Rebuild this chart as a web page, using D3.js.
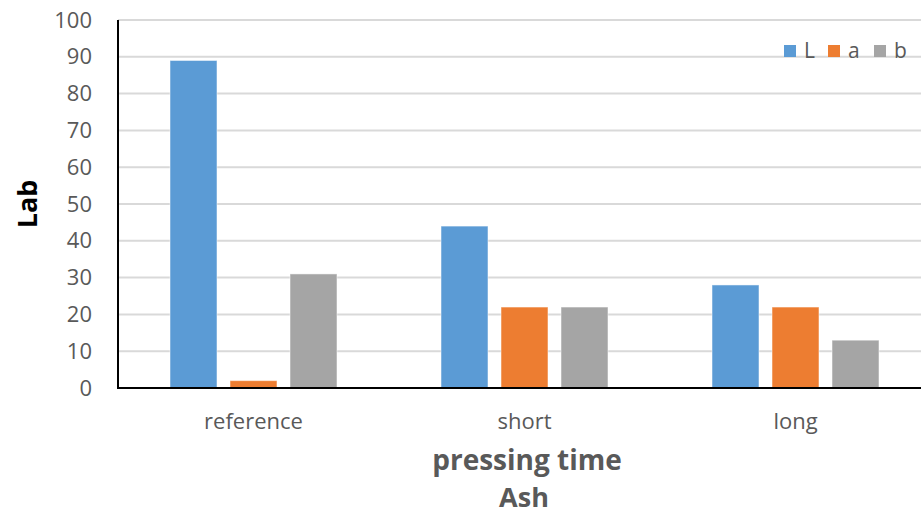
<!DOCTYPE html>
<html>
<head>
<meta charset="utf-8">
<script src="https://cdn.jsdelivr.net/npm/d3@7"></script>
<style>
  html, body { margin: 0; padding: 0; background: #fff; }
  svg { display: block; font-family: "Open Sans", "Liberation Sans", sans-serif; }
</style>
</head>
<body>
<svg id="chart" width="921" height="515"></svg>
<script>
// Lab colour values by pressing time
const categories = ["reference", "short", "long"];
const seriesNames = ["L", "a", "b"];
const valuesL = [89, 44, 28];
const valuesA = [2, 22, 22];
const valuesB = [31, 22, 13];
const yTicks = [0, 10, 20, 30, 40, 50, 60, 70, 80, 90, 100];
const colors = ["#5B9BD5", "#ED7D31", "#A5A5A5"];

const seriesValues = [valuesL, valuesA, valuesB];
const rows = categories.map((c, i) => ({
  category: c,
  values: seriesNames.map((s, j) => ({ key: s, value: seriesValues[j][i] }))
}));

const svg = d3.select("#chart");
const plotLeft = 118, plotTop = 20, plotBottom = 388, plotRight = 931;

const x0 = d3.scaleBand().domain(categories).range([plotLeft, plotRight]).padding(0);
const x1 = d3.scaleBand().domain(seriesNames)
  .range([45.5, 225.5]).paddingInner(0.217).paddingOuter(0.1085);
const y = d3.scaleLinear().domain([0, 100]).range([plotBottom, plotTop]);
const color = d3.scaleOrdinal().domain(seriesNames).range(colors);

// gridlines
svg.append("g")
  .selectAll("line")
  .data(yTicks.filter(t => t > 0))
  .join("line")
  .attr("x1", plotLeft).attr("x2", 921)
  .attr("y1", d => y(d)).attr("y2", d => y(d))
  .attr("stroke", "#d9d9d9").attr("stroke-width", 2);

// y axis labels
const yAxis = d3.axisLeft(y).tickValues(yTicks).tickSize(0).tickPadding(26);
const gy = svg.append("g").attr("transform", `translate(${plotLeft},0)`).call(yAxis);
gy.select(".domain").remove();
gy.selectAll("text").attr("fill", "#595959").style("font-size", "22px")
  .style("font-family", "'Open Sans', 'Liberation Sans', sans-serif");

// bars
const groups = svg.append("g").selectAll("g")
  .data(rows).join("g")
  .attr("transform", d => `translate(${x0(d.category)},0)`);
groups.selectAll("rect")
  .data(d => d.values).join("rect")
  .attr("x", d => x1(d.key))
  .attr("width", x1.bandwidth())
  .attr("y", d => y(d.value))
  .attr("height", d => y(0) - y(d.value))
  .attr("fill", d => color(d.key))
  .attr("stroke", "#ffffff").attr("stroke-opacity", 0.5).attr("stroke-width", 1);

// axis lines
svg.append("line").attr("x1", plotLeft).attr("x2", plotLeft)
  .attr("y1", plotTop).attr("y2", plotBottom + 1)
  .attr("stroke", "#000").attr("stroke-width", 2);
svg.append("line").attr("x1", plotLeft - 1).attr("x2", 921)
  .attr("y1", plotBottom).attr("y2", plotBottom)
  .attr("stroke", "#000").attr("stroke-width", 2);

// category labels
const xAxis = d3.axisBottom(x0).tickSize(0).tickPadding(25);
const gx = svg.append("g").attr("transform", `translate(0,${plotBottom})`).call(xAxis);
gx.select(".domain").remove();
gx.selectAll("text").attr("fill", "#595959").style("font-size", "22px")
  .style("font-family", "'Open Sans', 'Liberation Sans', sans-serif");

// axis titles
svg.append("text").attr("x", 527).attr("y", 470)
  .attr("text-anchor", "middle").attr("fill", "#595959")
  .style("font-size", "28px").style("font-weight", "bold")
  .text("pressing time");
svg.append("text").attr("x", 524).attr("y", 507)
  .attr("text-anchor", "middle").attr("fill", "#595959")
  .style("font-size", "27px").style("font-weight", "bold")
  .text("Ash");
svg.append("text")
  .attr("transform", "translate(37,204) rotate(-90)")
  .attr("text-anchor", "middle").attr("fill", "#000")
  .style("font-size", "27px").style("font-weight", "bold")
  .text("Lab");

// legend
const legendX = [784, 828, 874];
const legend = svg.append("g").selectAll("g")
  .data(seriesNames).join("g")
  .attr("transform", (d, i) => `translate(${legendX[i]},45)`);
legend.append("rect").attr("width", 12).attr("height", 12)
  .attr("fill", d => color(d));
legend.append("text").attr("x", 20).attr("y", 13)
  .attr("fill", "#595959").style("font-size", "21px")
  .text(d => d);
</script>
</body>
</html>
